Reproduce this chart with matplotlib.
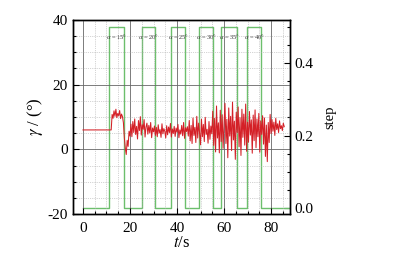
import numpy as np
import matplotlib
matplotlib.use('Agg')
import matplotlib.pyplot as plt
from matplotlib.ticker import MultipleLocator

# DATA
# ----
# roll angle gamma (deg), flat lead-in then sampled every 0.4 s from t = 12 s
gamma_lead_t = [0.0]
gamma_lead_v = [6.0]
gamma_t0 = 12.0
gamma_dt = 0.4
gamma_vals = [
    6.0, 10.8, 9.6, 11.9, 10.2, 12.4, 9.8, 11.1, 10.4, 12.0, 9.5, 10.9, 10.1,
    8.2, 3.5, 0.4, -1.6, 2.8, 0.9, 5.6, 4.1,
    7.8, 3.9, 8.6, 5.2, 9.4, 4.6, 7.1, 3.2, 8.9, 5.8, 10.1, 4.4, 7.6, 6.2, 9.2,
    3.8, 6.9, 8.1, 4.7, 7.4, 5.1, 8.3, 3.6, 6.6, 5.4,
    7.2, 4.3, 6.8, 3.9, 7.6, 5.0, 6.1, 3.7, 7.9, 4.8, 6.4, 5.6, 3.5, 7.3, 4.5,
    6.9, 5.2, 8.0, 3.8, 6.3, 4.9, 7.1, 4.0, 6.6, 5.3, 7.7, 3.6, 6.0, 4.7, 7.4,
    4.2, 8.3, 3.4, 6.7, 5.5, 7.0, 4.1,
    8.9, 2.6, 7.4, 1.8, 9.7, 4.3, 6.8, 2.1, 10.2, 3.5, 8.1, 5.0, 1.4, 9.3, 3.9,
    7.7, 2.4, 9.9, 4.6, 6.2, 1.9, 8.6, 3.1, 7.2, 4.8,
    11.8, 1.2, 9.6, -0.8, 13.4, 3.5, 8.2, -1.1, 12.1, 2.4, 10.7, 0.3, 7.9, 14.2,
    1.8, 9.3, -2.6, 12.8, 4.1, 10.2, -0.4, 14.6, 2.9, 8.7, -3.1, 11.5, 5.2, 13.1,
    0.8, 9.8, -1.9, 12.4, 3.7, 10.9, 1.3, 14.0, -0.6, 8.4, 2.2, 11.7, 4.4, 9.1,
    -1.2, 10.6, 2.7, 12.2, 0.5, 9.4, 3.9, 11.1, -0.9, 8.8, 4.6, 10.4, 1.6, 9.7,
    -2.2, 7.5, -3.8, 8.3, 2.1, 10.8,
    4.9, 9.2, 5.6, 8.4, 4.3, 9.6, 6.1, 7.9, 5.2, 8.8, 6.4, 7.3, 5.8, 8.1, 7.0,
]

# step input: switching times (s) and level held after each switch
step_t = [0.0, 11.1, 17.4, 25.0, 30.6, 37.4, 43.4, 49.4, 55.3, 58.7, 65.5, 69.8, 75.7, 88.0]
step_v = [0.0, 0.5, 0.0, 0.5, 0.0, 0.5, 0.0, 0.5, 0.0, 0.5, 0.0, 0.5, 0.0, 0.0]
alpha_labels = [r'$\alpha$ = 15°', r'$\alpha$ = 20°', r'$\alpha$ = 25°',
                r'$\alpha$ = 30°', r'$\alpha$ = 35°', r'$\alpha$ = 40°']

# STYLE
# -----
plt.rcParams['font.family'] = ['Liberation Serif', 'DejaVu Serif']
plt.rcParams['mathtext.fontset'] = 'stix'
plt.rcParams['axes.unicode_minus'] = False

RED = '#d42027'
GREEN = '#6cbf6c'

fig = plt.figure(figsize=(3.96, 2.56), dpi=100)
ax = fig.add_axes([0.184, 0.164, 0.548, 0.758])
ax2 = ax.twinx()

gt = np.concatenate([gamma_lead_t, gamma_t0 + gamma_dt * np.arange(len(gamma_vals))])
gv = np.concatenate([gamma_lead_v, gamma_vals])

ax2.plot(step_t, step_v, drawstyle='steps-post', color=GREEN, lw=1.0, zorder=2)
ax.plot(gt, gv, color=RED, lw=0.75, zorder=3)
ax.set_zorder(ax2.get_zorder() + 1)
ax.patch.set_visible(False)

# pulse labels
highs = [i for i, v in enumerate(step_v[:-1]) if v > 0]
for i, lab in zip(highs, alpha_labels):
    xc = 0.5 * (step_t[i] + step_t[i + 1])
    ax2.text(xc, 0.472, lab, fontsize=4.6, ha='center', va='center', color='#333333')

ax.set_xlim(-4.3, 88)
ax.set_ylim(-20, 40)
ax2.set_ylim(-0.0166, 0.519)

ax.xaxis.set_major_locator(MultipleLocator(20))
ax.xaxis.set_minor_locator(MultipleLocator(5))
ax.yaxis.set_major_locator(MultipleLocator(20))
ax.yaxis.set_minor_locator(MultipleLocator(5))
ax2.yaxis.set_major_locator(MultipleLocator(0.2))
ax2.yaxis.set_minor_locator(MultipleLocator(0.05))
ax2.set_yticks([0.0, 0.2, 0.4])
ax2.set_yticklabels(['0.0', '0.2', '0.4'])

ax.grid(True, which='major', color='#666666', lw=0.6, ls='-')
ax.grid(True, which='minor', color='#aaaaaa', lw=0.5, ls=':')

for a in (ax, ax2):
    a.tick_params(which='both', direction='in', labelsize=11, width=0.8)
    a.tick_params(which='major', length=4)
    a.tick_params(which='minor', length=2)
    for s in a.spines.values():
        s.set_linewidth(1.0)
ax.tick_params(axis='x', pad=6)

ax.set_xlabel(r'$t$/s', fontsize=12, labelpad=0)
ax.set_ylabel(r'$\gamma$ / (°)', fontsize=12, labelpad=2)
ax2.set_ylabel('step', fontsize=10.5, labelpad=7)

fig.savefig('out.png', dpi=100)
